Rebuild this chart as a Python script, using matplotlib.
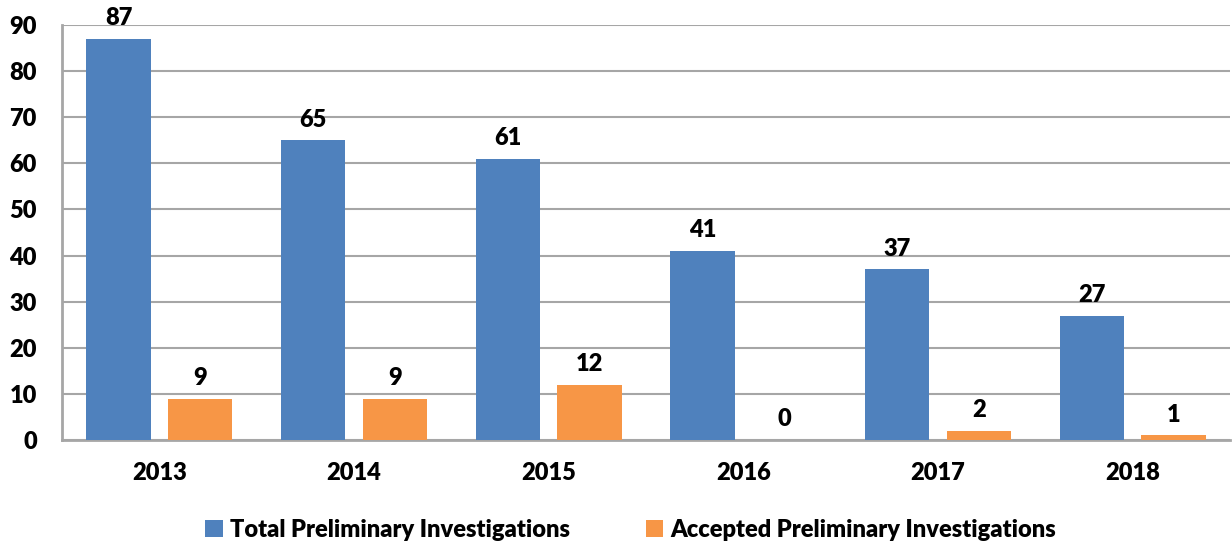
import matplotlib
matplotlib.use('Agg')
import matplotlib.pyplot as plt
import numpy as np

years = ['2013', '2014', '2015', '2016', '2017', '2018']
total = [87, 65, 61, 41, 37, 27]
accepted = [9, 9, 12, 0, 2, 1]

plt.rcParams['font.family'] = ['Lato', 'DejaVu Sans']
plt.rcParams['font.weight'] = 'heavy'

blue = '#4F81BD'
orange = '#F79646'
grid = '#A6A6A6'
fs = 17

fig = plt.figure(figsize=(12.32, 5.45), dpi=100)
ax = fig.add_axes([62/1232, 1 - 440/545, (1230-62)/1232, (440-25)/545])

x = np.arange(len(years))
w = 0.33
off = 0.21
b1 = ax.bar(x - off, total, w, color=blue, label='Total Preliminary Investigations', zorder=3)
b2 = ax.bar(x + off, accepted, w, color=orange, label='Accepted Preliminary Investigations', zorder=3)

for bars in (b1, b2):
    for r in bars:
        ax.annotate(f'{int(r.get_height())}', (r.get_x() + r.get_width()/2, r.get_height()),
                    xytext=(0, 7), textcoords='offset points', ha='center', va='bottom',
                    fontsize=fs, fontweight='heavy', color='black')

ax.set_xlim(-0.5, len(years) - 0.5)
ax.set_ylim(0, 90)
ax.set_yticks(range(0, 91, 10))
ax.set_xticks(x)
ax.set_xticklabels(years)
ax.yaxis.grid(True, color=grid, linewidth=1.5, zorder=0)
ax.set_axisbelow(True)
for s in ('top', 'right'):
    ax.spines[s].set_visible(False)
for s in ('left', 'bottom'):
    ax.spines[s].set_color(grid)
    ax.spines[s].set_linewidth(2)
ax.tick_params(axis='both', length=0, labelsize=fs)
ax.tick_params(axis='y', pad=18)
ax.tick_params(axis='x', pad=16)
for lab in ax.get_xticklabels() + ax.get_yticklabels():
    lab.set_fontweight('heavy')

fig.legend(loc='center', bbox_to_anchor=(0.512, 1 - 530/545), ncol=2, frameon=False,
           prop={'size': fs, 'weight': 'heavy'},
           handlelength=0.75, handleheight=0.75, handletextpad=0.3, columnspacing=3.2)

fig.savefig('out.png', dpi=100)
